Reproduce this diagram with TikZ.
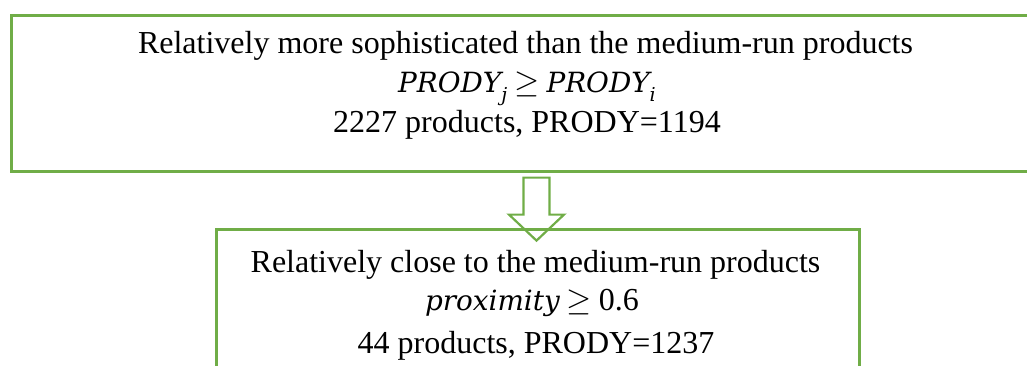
\documentclass[tikz,border=0pt]{standalone}
\usepackage{fontspec}
\usepackage{graphicx}
\setmainfont{Liberation Serif}
\newfontfamily\eqfont{DejaVu Serif}[Scale=0.87]
\usetikzlibrary{calc}
\definecolor{boxgreen}{HTML}{70AD47}
\begin{document}
\begin{tikzpicture}[x=1pt,y=-1pt,
  box/.style={draw=boxgreen,line width=2.6pt,inner sep=0pt},
  lbl/.style={anchor=base,inner sep=0pt,font=\fontsize{32}{38}\selectfont},
  eq/.style={anchor=base,inner sep=0pt,font=\fontsize{32}{38}\selectfont}]
\newcommand\eqvar[1]{{\eqfont\itshape #1}}
\newcommand\eqsub[1]{\raisebox{-0.3em}{\fontsize{22}{24}\eqfont\itshape #1}}
\newcommand\eqgeq{\hspace{0.22em}\scalebox{1.3}{$\geq$}\hspace{0.22em}}
\useasboundingbox (0,0) rectangle (1027,365);
% the two boxes, both running past the page edge
\node[box,anchor=north west,minimum width=1035pt,minimum height=156pt] (upper) at (10,14) {};
\node[box,anchor=north west,minimum width=643pt,minimum height=200pt] (lower) at (215,228) {};
% hollow block arrow from the upper box down to the lower one
\coordinate (tail) at (upper.south -| 536.5,0);
\path (tail) ++(0,5) coordinate (s1);
\draw[boxgreen,line width=2.2pt,line join=miter]
  ($(s1)+(-13,0)$) -- ($(s1)+(13,0)$) -- ($(s1)+(13,37)$) -- ($(s1)+(27.5,37)$)
  -- ($(s1)+(0,63)$) coordinate (tip) -- ($(s1)+(-27.5,37)$) -- ($(s1)+(-13,37)$) -- cycle;
% texts of the upper box
\node[lbl] (u1) at (525.5,53) {Relatively more sophisticated than the medium-run products};
\node[eq] (u2) at (527,92) {\eqvar{PRODY}\eqsub{j}\eqgeq\eqvar{PRODY}\eqsub{i}};
\node[lbl] (u3) at (527,132) {2227 products, PRODY=1194};
% texts of the lower box
\node[lbl] (l1) at (535.5,272) {Relatively close to the medium-run products};
\node[eq] (l2) at (532,310) {\eqvar{proximity}\eqgeq 0.6};
\node[lbl] (l3) at (536,353) {44 products, PRODY=1237};
\end{tikzpicture}
\end{document}
